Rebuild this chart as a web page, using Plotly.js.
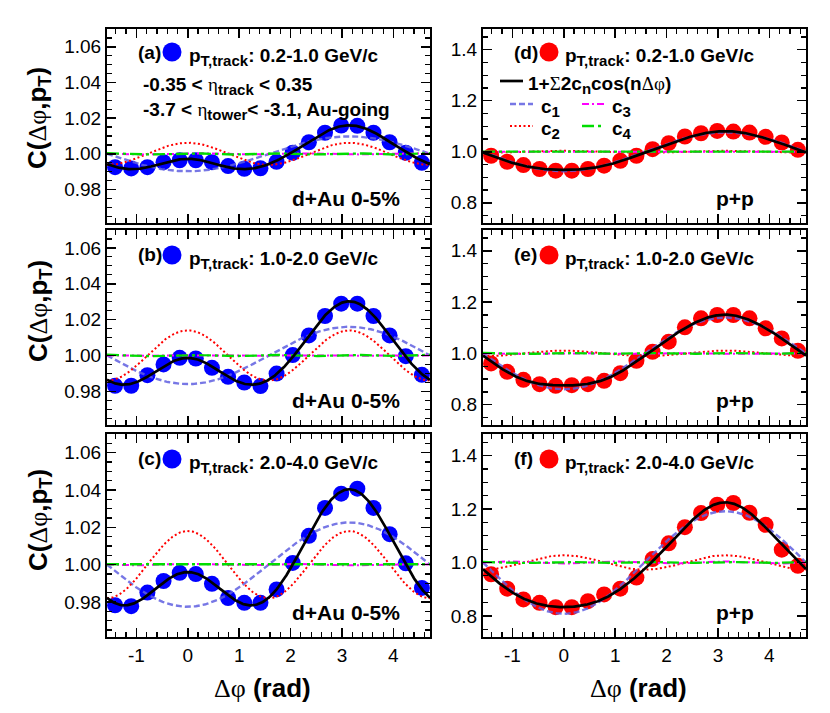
<!DOCTYPE html>
<html><head><meta charset="utf-8">
<script src="https://cdn.plot.ly/plotly-3.0.1.min.js"></script>
<style>html,body{margin:0;padding:0;background:#fff}#chart{width:830px;height:713px}</style>
</head><body><div id="chart"></div>
<script>
// ---------------- data ----------------
const dphiBins = [-1.414, -1.100, -0.785, -0.471, -0.157, 0.157, 0.471, 0.785, 1.100, 1.414,
                  1.728, 2.042, 2.356, 2.670, 2.985, 3.299, 3.613, 3.927, 4.241, 4.555];
const xTickVals = [-1, 0, 1, 2, 3, 4];
const xTickText = ['-1', '0', '1', '2', '3', '4'];
const ptBins = ['0.2-1.0', '1.0-2.0', '2.0-4.0'];
const panelLetters = ['a', 'b', 'c', 'd', 'e', 'f'];

// d+Au 0-5%
const dAu_pt1 = [0.9925,0.9918,0.9925,0.9953,0.9964,0.9964,0.9953,0.9931,0.9916,0.9919,0.9955,1.0006,1.0065,1.0118,1.0159,1.0157,1.0118,1.0065,1.0006,0.9950];
const dAu_pt2 = [0.9831,0.9831,0.9890,0.9950,0.9987,0.9983,0.9931,0.9881,0.9849,0.9829,0.9899,1.0002,1.0112,1.0220,1.0289,1.0289,1.0220,1.0112,0.9996,0.9892];
const dAu_pt3 = [0.9782,0.9777,0.9850,0.9912,0.9956,0.9949,0.9897,0.9821,0.9795,0.9795,0.9867,1.0009,1.0154,1.0304,1.0380,1.0407,1.0304,1.0163,1.0007,0.9875];
// p+p
const pp_pt1 = [0.9844,0.9610,0.9480,0.9325,0.9260,0.9260,0.9325,0.9455,0.9650,0.9844,1.0104,1.0338,1.0600,1.0727,1.0818,1.0792,1.0753,1.0584,1.0364,1.0078];
const pp_pt2 = [0.9609,0.9283,0.8971,0.8801,0.8736,0.8762,0.8801,0.8932,0.9231,0.9713,1.0065,1.0456,1.1016,1.1368,1.1498,1.1498,1.1368,1.0977,1.0586,1.0104];
const pp_pt3 = [0.9560,0.9019,0.8616,0.8490,0.8327,0.8327,0.8553,0.8805,0.9019,0.9434,1.0126,1.0717,1.1321,1.1849,1.2164,1.2226,1.1862,1.1409,1.0478,0.9874];

// Fourier coefficients c_n per panel (a..f)
const c1 = [-0.0049, -0.0080, -0.0113, -0.0380, -0.0700, -0.0960];
const c2 = [ 0.0031,  0.0070,  0.0090,  0.0020,  0.0055,  0.0135];
const c3 = [ 0.0002,  0.0001,  0.0002,  0.0000,  0.0010, -0.0020];
const c4 = [ 0.0002,  0.0002,  0.0001,  0.0005,  0.0010,  0.0010];

const panelData = [dAu_pt1, dAu_pt2, dAu_pt3, pp_pt1, pp_pt2, pp_pt3];

// ---------------- geometry helpers ----------------
const W = 830, H = 713;
const px = x => x / W;
const py = y => 1 - y / H;
const colX = [[107, 430], [483, 806]];
const rowY = [[29, 223], [230, 425], [434, 637]];

const phiGrid = [];
for (let i = 0; i <= 360; i++) phiGrid.push(-Math.PI / 2 + 2 * Math.PI * i / 360);
const harm = (n, c) => phiGrid.map(p => 1 + 2 * c * Math.cos(n * p));
const total = k => phiGrid.map(p => 1 + 2 * (c1[k] * Math.cos(p) + c2[k] * Math.cos(2 * p) + c3[k] * Math.cos(3 * p) + c4[k] * Math.cos(4 * p)));

const FONT = 'Liberation Sans, Arial, sans-serif';
const GREEK = 'font-family:Liberation Serif, DejaVu Serif, serif;font-weight:normal';
const sub = s => '<sub><span style="font-size:15px">' + s + '</span></sub>';
const styleC1 = {color: 'rgba(95,95,225,0.85)', width: 2.4, dash: '6px,3px'};
const styleC2 = {color: '#ff0000', width: 2, dash: '2px,2.5px'};
const styleC3 = {color: '#ff00ff', width: 2, dash: '7px,3px,2px,3px'};
const styleC4 = {color: '#00dd00', width: 2.3, dash: '12px,4px,3px,4px'};
const styleFit = {color: '#000000', width: 2.7};

const traces = [];
const layout = {
  width: W, height: H, margin: {l: 0, r: 0, t: 0, b: 0},
  paper_bgcolor: '#fff', plot_bgcolor: '#fff', showlegend: false,
  font: {family: FONT, color: '#000'},
  annotations: [], shapes: []
};

for (let k = 0; k < 6; k++) {
  const col = k < 3 ? 0 : 1, row = k % 3;
  const idx = k + 1;
  const xa = idx === 1 ? 'x' : 'x' + idx, ya = idx === 1 ? 'y' : 'y' + idx;
  const xKey = idx === 1 ? 'xaxis' : 'xaxis' + idx, yKey = idx === 1 ? 'yaxis' : 'yaxis' + idx;
  const isDAu = col === 0;
  const mcol = isDAu ? '#0000ff' : '#ff0000';
  traces.push({x: dphiBins, y: panelData[k], xaxis: xa, yaxis: ya, type: 'scatter', mode: 'markers',
               marker: {size: 16, color: mcol, line: {width: 0}}});
  traces.push({x: phiGrid, y: harm(1, c1[k]), xaxis: xa, yaxis: ya, mode: 'lines', line: styleC1});
  traces.push({x: phiGrid, y: harm(2, c2[k]), xaxis: xa, yaxis: ya, mode: 'lines', line: styleC2});
  traces.push({x: phiGrid, y: harm(3, c3[k]), xaxis: xa, yaxis: ya, mode: 'lines', line: styleC3});
  traces.push({x: phiGrid, y: harm(4, c4[k]), xaxis: xa, yaxis: ya, mode: 'lines', line: styleC4});
  traces.push({x: phiGrid, y: total(k), xaxis: xa, yaxis: ya, mode: 'lines', line: styleFit});

  const common = {showgrid: false, zeroline: false, showline: true, linecolor: '#000', linewidth: 2,
    mirror: 'allticks', ticks: 'inside', tickcolor: '#000', tickwidth: 1.5, fixedrange: true,
    tickfont: {family: FONT, size: 19, color: '#000'}};
  layout[xKey] = Object.assign({}, common, {
    domain: [px(colX[col][0]), px(colX[col][1])], anchor: ya,
    range: [-Math.PI / 2, 3 * Math.PI / 2], tickmode: 'array', tickvals: xTickVals, ticktext: xTickText,
    ticklen: 9, showticklabels: row === 2,
    minor: {tick0: 0, dtick: 0.2, ticks: 'inside', ticklen: 5, tickwidth: 1.2, tickcolor: '#000', showgrid: false}
  });
  layout[yKey] = Object.assign({}, common, {
    domain: [py(rowY[row][1]), py(rowY[row][0])], anchor: xa,
    range: isDAu ? [0.9612, 1.0700] : [0.721, 1.481],
    tickmode: 'linear', tick0: 1, dtick: isDAu ? 0.02 : 0.2, tickformat: isDAu ? '.2f' : '.1f',
    ticklen: 9,
    minor: {tick0: 1, dtick: isDAu ? 0.005 : 0.05, ticks: 'inside', ticklen: 5, tickwidth: 1.2, tickcolor: '#000', showgrid: false}
  });

  // panel header: (x) ● p_T,track: ...
  const top = rowY[row][0];
  const hy = top + (row === 0 ? 23 : 25);
  const x0 = colX[col][0];
  layout.annotations.push({xref: 'paper', yref: 'paper', x: px(x0 + 29), y: py(hy), xanchor: 'left', yanchor: 'middle',
    text: '(' + panelLetters[k] + ')', showarrow: false, font: {family: FONT, size: 19, color: '#000', weight: 'bold'}});
  const cx = x0 + (isDAu ? 65 : 66);
  layout.shapes.push({type: 'circle', xref: 'paper', yref: 'paper', x0: px(cx - 9.5), x1: px(cx + 9.5), y0: py(hy + 9.5), y1: py(hy - 9.5),
    fillcolor: mcol, line: {width: 0}});
  layout.annotations.push({xref: 'paper', yref: 'paper', x: px(x0 + 80), y: py(hy + 5), xanchor: 'left', yanchor: 'middle',
    text: 'p' + sub('T,track') + ': ' + ptBins[row] + ' GeV/c', showarrow: false, font: {family: FONT, size: 19, color: '#000', weight: 'bold'}});
  // system label
  layout.annotations.push({xref: 'paper', yref: 'paper', x: px(isDAu ? 402 : 756), y: py(top + (row === 2 ? 178 : 170)),
    xanchor: 'right', yanchor: 'middle', text: isDAu ? 'd+Au 0-5%' : 'p+p', showarrow: false,
    font: {family: FONT, size: 21, color: '#000', weight: 'bold'}});
  // y axis title on left panels
  if (isDAu) {
    const yc = [118, 311, 520][row];
    layout.annotations.push({xref: 'paper', yref: 'paper', x: px(39), y: py(yc), xanchor: 'center', yanchor: 'middle',
      textangle: -90, text: 'C(<span style="' + GREEK + '">Δφ</span>,p<sub>T</sub>)', showarrow: false,
      font: {family: FONT, size: 26, color: '#000', weight: 'bold'}});
  }
}

// extra text in panel (a)
layout.annotations.push({xref: 'paper', yref: 'paper', x: px(141), y: py(86), xanchor: 'left', yanchor: 'middle',
  text: '-0.35 < <span style="' + GREEK + '">η</span>' + sub('track') + ' < 0.35', showarrow: false,
  font: {family: FONT, size: 19, color: '#000', weight: 'bold'}});
layout.annotations.push({xref: 'paper', yref: 'paper', x: px(141), y: py(111), xanchor: 'left', yanchor: 'middle',
  text: '-3.7 < <span style="' + GREEK + '">η</span>' + sub('tower') + '< -3.1, Au-going', showarrow: false,
  font: {family: FONT, size: 19, color: '#000', weight: 'bold'}});

// legend in panel (d)
const legLines = [
  {x: 500, y: 81, st: styleFit, t: '1+<span style="' + GREEK + '">Σ</span>2c' + sub('n') + 'cos(n<span style="' + GREEK + '">Δφ</span>)', tx: 526},
  {x: 510, y: 104, st: styleC1, t: 'c' + sub('1'), tx: 539},
  {x: 582, y: 104, st: styleC3, t: 'c' + sub('3'), tx: 610},
  {x: 510, y: 126, st: styleC2, t: 'c' + sub('2'), tx: 539},
  {x: 582, y: 126, st: styleC4, t: 'c' + sub('4'), tx: 610}
];
legLines.forEach(L => {
  layout.shapes.push({type: 'line', xref: 'paper', yref: 'paper', x0: px(L.x), x1: px(L.x + 23), y0: py(L.y), y1: py(L.y), line: L.st});
  layout.annotations.push({xref: 'paper', yref: 'paper', x: px(L.tx), y: py(L.y + 4), xanchor: 'left', yanchor: 'middle',
    text: L.t, showarrow: false, font: {family: FONT, size: 19, color: '#000', weight: 'bold'}});
});

// x axis titles
[262, 638].forEach(xc => {
  layout.annotations.push({xref: 'paper', yref: 'paper', x: px(xc), y: py(688), xanchor: 'center', yanchor: 'middle',
    text: '<span style="' + GREEK + '">Δφ</span> (rad)', showarrow: false, font: {family: FONT, size: 26, color: '#000', weight: 'bold'}});
});

Plotly.newPlot('chart', traces, layout, {staticPlot: true, displayModeBar: false});
</script></body></html>
